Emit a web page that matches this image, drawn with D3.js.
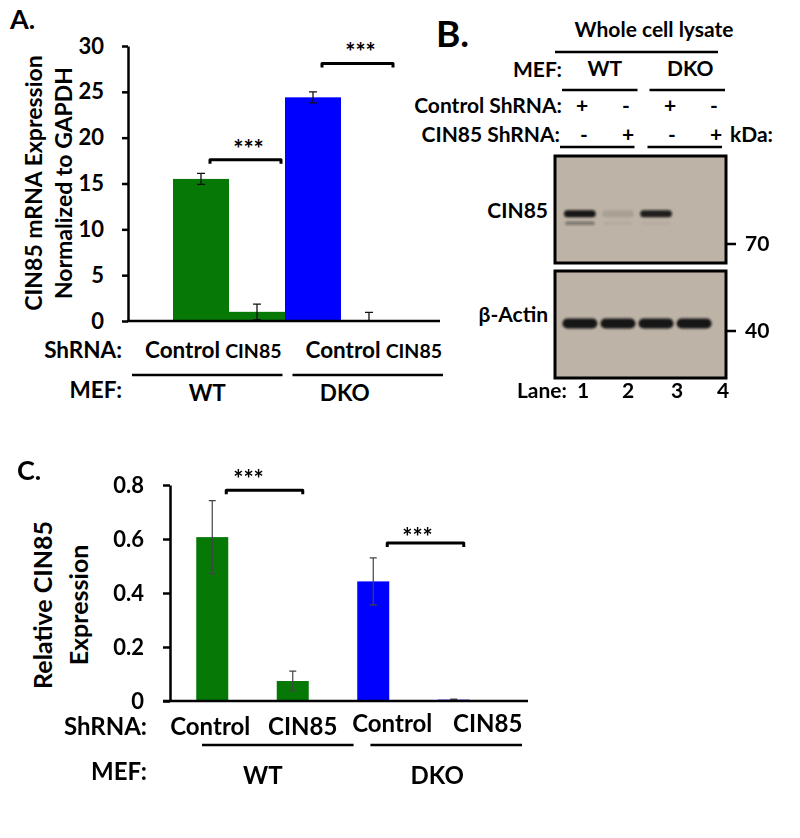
<!DOCTYPE html>
<html><head><meta charset="utf-8">
<script src="https://cdn.jsdelivr.net/npm/d3@7"></script>
<style>
body{margin:0;background:#fff}
svg{display:block}
text{font-family:Lato,"Open Sans",sans-serif;font-weight:700;fill:#000}
</style>
</head><body>
<svg id="fig" width="800" height="838"></svg>
<script>
// ---------------- DATA ----------------
const shrnaLabels = ["Control", "CIN85", "Control", "CIN85"];
const mefGroups = ["WT", "DKO"];
const barGroup = ["WT", "WT", "DKO", "DKO"];
// Panel A: CIN85 mRNA expression normalized to GAPDH
const mrnaValues = [15.5, 1.0, 24.4, 0.05];
const mrnaErrors = [0.6, 0.85, 0.6, 0.9];
const mrnaTicks = [0, 5, 10, 15, 20, 25, 30];
const mrnaSigLevels = [17.6, 28.1];
// Panel C: relative CIN85 (protein) expression
const proteinValues = [0.607, 0.074, 0.443, 0.005];
const proteinErrors = [0.135, 0.037, 0.087, 0.002];
const proteinTicks = [0, 0.2, 0.4, 0.6, 0.8];
const proteinSigLevels = [0.781, 0.585];
const sigPairs = [[0, 1], [2, 3]];
const sigLabel = "***";
// Panel B: western blot
const blotLanes = [1, 2, 3, 4];
const controlShRNA = ["+", "-", "+", "-"];
const cin85ShRNA = ["-", "+", "-", "+"];
const cin85Band = [1.0, 0.1, 0.95, 0];       // ~85 kDa
const cin85LowerBand = [0.45, 0.05, 0.04, 0]; // ~80 kDa
const actinBand = [1, 1, 1, 1];              // ~42 kDa
const markerKDa = [70, 40];

// ---------------- SETUP ----------------
const svg = d3.select("#fig");
svg.append("rect").attr("width", 800).attr("height", 838).attr("fill", "#fff");
const defs = svg.append("defs");
defs.append("filter").attr("id", "blur").attr("x", "-20%").attr("y", "-100%").attr("width", "140%").attr("height", "300%")
  .append("feGaussianBlur").attr("stdDeviation", 1.3);
const color = d3.scaleOrdinal().domain(mefGroups).range(["#067806", "#0000ff"]);

function txt(g, s, x, y, size, anchor) {
  return g.append("text").attr("x", x).attr("y", y).attr("font-size", size)
    .attr("text-anchor", anchor || "start").text(s);
}
function bracket(g, x1, x2, y) {
  g.append("path").attr("d", `M${x1},${y + 4}L${x1},${y}L${x2},${y}L${x2},${y + 4}`)
    .attr("fill", "none").attr("stroke", "#000").attr("stroke-width", 3).attr("stroke-linejoin", "round");
}
function styleAxis(ax, size) {
  ax.select(".domain").attr("stroke", "#000").attr("stroke-width", 2.5);
  ax.selectAll(".tick line").attr("stroke", "#000").attr("stroke-width", 2.5);
  ax.selectAll(".tick text").attr("font-size", size).attr("fill", "#000")
    .style("font-family", "Lato, sans-serif").style("font-weight", 700);
}

// ---------------- PANEL A ----------------
{
  const g = svg.append("g");
  const x = d3.scaleBand().domain(d3.range(4)).range([173, 397]).padding(0);
  const y = d3.scaleLinear().domain([0, 30]).range([321, 46]);
  txt(g, "A.", 10, 29, 27);
  g.append("text").attr("transform", "translate(42,183) rotate(-90)").attr("text-anchor", "middle").attr("font-size", 23).text("CIN85 mRNA Expression");
  g.append("text").attr("transform", "translate(72,183) rotate(-90)").attr("text-anchor", "middle").attr("font-size", 23).text("Normalized to GAPDH");
  // bars
  g.selectAll(".barA").data(mrnaValues).join("rect")
    .attr("x", (d, i) => x(i)).attr("width", x.bandwidth())
    .attr("y", d => y(d)).attr("height", d => y(0) - y(d))
    .attr("fill", (d, i) => color(barGroup[i]));
  // error bars
  mrnaValues.forEach((v, i) => {
    const cx = x(i) + x.bandwidth() / 2;
    const top = y(v + mrnaErrors[i]), bot = y(Math.max(0, v - mrnaErrors[i]));
    g.append("path").attr("d", `M${cx},${top}L${cx},${bot}M${cx - 4},${top}L${cx + 4},${top}M${cx - 4},${bot}L${cx + 4},${bot}`)
      .attr("stroke", "#111").attr("stroke-width", 1.3).attr("fill", "none");
  });
  // axes
  const ay = g.append("g").attr("transform", "translate(128,0)")
    .call(d3.axisLeft(y).tickValues(mrnaTicks).tickSize(6).tickSizeOuter(0).tickPadding(18).tickFormat(d3.format("d")));
  styleAxis(ay, 22);
  g.append("line").attr("x1", 127).attr("x2", 440).attr("y1", y(0)).attr("y2", y(0)).attr("stroke", "#000").attr("stroke-width", 2.5);
  // significance
  sigPairs.forEach((p, k) => {
    const x1 = x(p[0]) + x.bandwidth() / 2 + 9, x2 = x(p[1]) + x.bandwidth() / 2 + 24;
    const yy = y(mrnaSigLevels[k]);
    bracket(g, x1, x2, yy);
    txt(g, sigLabel, (x1 + x2) / 2 + 3, yy - 2, 24, "middle");
  });
  // category labels
  const gA = d3.scaleBand().domain(mefGroups).range([132, 443]).paddingInner(0.0623);
  txt(g, "ShRNA:", 122, 358, 22.5, "end");
  txt(g, "MEF:", 122, 398, 22.5, "end");
  mefGroups.forEach((m, k) => {
    const s = gA(m), e = s + gA.bandwidth();
    txt(g, shrnaLabels[k * 2], s + 13, 358, 22.5, "start");
    txt(g, shrnaLabels[k * 2 + 1], e - 1, 358, 19.5, "end");
    g.append("line").attr("x1", s).attr("x2", e).attr("y1", 375).attr("y2", 375).attr("stroke", "#000").attr("stroke-width", 2.5);
    txt(g, m, s + gA.bandwidth() / 2 + [0, -23][k], 401, 22.5, "middle");
  });
}

// ---------------- PANEL B ----------------
{
  const g = svg.append("g");
  const lane = d3.scaleBand().domain(blotLanes).range([558, 716]).padding(0.15);
  const head = d3.scaleBand().domain(blotLanes).range([562, 738]);
  const mw = d3.scaleLog().domain([40, 70]).range([331, 244]);
  txt(g, "B.", 436, 47, 37);
  txt(g, "Whole cell lysate", 654, 37, 21, "middle");
  g.append("line").attr("x1", 555).attr("x2", 718).attr("y1", 52).attr("y2", 52).attr("stroke", "#000").attr("stroke-width", 2.5);
  txt(g, "MEF:", 562, 77, 21, "end");
  const gB = d3.scaleBand().domain(mefGroups).range([562, 725]).paddingInner(0.137);
  mefGroups.forEach((m, k) => {
    txt(g, m, gB(m) + gB.bandwidth() / 2 + [5, 3][k], 76, 21, "middle");
    g.append("line").attr("x1", gB(m)).attr("x2", gB(m) + gB.bandwidth()).attr("y1", 90).attr("y2", 90).attr("stroke", "#000").attr("stroke-width", 2.5);
    g.append("line").attr("x1", gB(m) - 2).attr("x2", gB(m) + gB.bandwidth() - 3).attr("y1", 147).attr("y2", 147).attr("stroke", "#000").attr("stroke-width", 2.5);
  });
  txt(g, "Control ShRNA:", 562, 113, 21, "end");
  txt(g, "CIN85 ShRNA:", 560, 142, 21, "end");
  blotLanes.forEach((l, i) => {
    const cx = head(l) + head.bandwidth() / 2;
    txt(g, controlShRNA[i], cx - 2, 113, 21, "middle");
    txt(g, cin85ShRNA[i], cx, 142, 21, "middle");
  });
  txt(g, "kDa:", 730, 142, 21, "start");
  // blots
  const blots = [{ y0: 156, y1: 263, label: "CIN85", ly: 218 }, { y0: 271, y1: 378, label: "\u03b2-Actin", ly: 322 }];
  blots.forEach(b => {
    g.append("rect").attr("x", 555).attr("y", b.y0).attr("width", 171).attr("height", b.y1 - b.y0)
      .attr("fill", "#bdb3a6").attr("stroke", "#000").attr("stroke-width", 3);
    txt(g, b.label, 548, b.ly, 21, "end");
  });
  const bandG = g.append("g").attr("filter", "url(#blur)");
  function drawBands(vals, kda, h, wScale) {
    vals.forEach((v, i) => {
      if (v <= 0) return;
      const l = blotLanes[i];
      const w = lane.bandwidth() * wScale;
      const cx = lane(l) + lane.bandwidth() / 2;
      bandG.append("rect").attr("x", cx - w / 2).attr("y", mw(kda) - h / 2).attr("width", w).attr("height", h)
        .attr("rx", h / 2).attr("fill", "#141414").attr("opacity", v);
    });
  }
  drawBands(cin85Band, 85, 7, 0.98);
  drawBands(cin85LowerBand, 80, 3, 0.9);
  drawBands(actinBand, 42, 10, 1.08);
  markerKDa.forEach(k => {
    g.append("line").attr("x1", 726).attr("x2", 736).attr("y1", mw(k)).attr("y2", mw(k)).attr("stroke", "#000").attr("stroke-width", 2.5);
    txt(g, String(k), 745, mw(k) + 7, 21, "start");
  });
  txt(g, "Lane:", 567, 398, 21, "end");
  blotLanes.forEach((l, i) => txt(g, String(l), head(l) + head.bandwidth() / 2 + [-1, 0, 5, 7][i], 398, 21, "middle"));
}

// ---------------- PANEL C ----------------
{
  const g = svg.append("g");
  const x = d3.scaleBand().domain(d3.range(4)).range([172, 494]).paddingInner(0.6025).paddingOuter(0.30125);
  const y = d3.scaleLinear().domain([0, 0.8]).range([701, 485]);
  txt(g, "C.", 17, 480, 27);
  g.append("text").attr("transform", "translate(52,605) rotate(-90)").attr("text-anchor", "middle").attr("font-size", 25).text("Relative CIN85");
  g.append("text").attr("transform", "translate(88,605) rotate(-90)").attr("text-anchor", "middle").attr("font-size", 25).text("Expression");
  g.selectAll(".barC").data(proteinValues).join("rect")
    .attr("x", (d, i) => x(i)).attr("width", x.bandwidth())
    .attr("y", d => y(d)).attr("height", d => y(0) - y(d))
    .attr("fill", (d, i) => color(barGroup[i]));
  proteinValues.forEach((v, i) => {
    const cx = x(i) + x.bandwidth() / 2;
    const top = y(v + proteinErrors[i]), bot = y(Math.max(0, v - proteinErrors[i]));
    g.append("path").attr("d", `M${cx},${top}L${cx},${bot}M${cx - 3.5},${top}L${cx + 3.5},${top}M${cx - 3.5},${bot}L${cx + 3.5},${bot}`)
      .attr("stroke", "#444").attr("stroke-width", 1.2).attr("fill", "none");
  });
  const ay = g.append("g").attr("transform", "translate(170,0)")
    .call(d3.axisLeft(y).tickValues(proteinTicks).tickSize(7).tickSizeOuter(0).tickPadding(19).tickFormat(d => d === 0 ? "0" : d3.format(".1f")(d)));
  styleAxis(ay, 22);
  g.append("line").attr("x1", 163).attr("x2", 528).attr("y1", y(0)).attr("y2", y(0)).attr("stroke", "#000").attr("stroke-width", 2.5);
  sigPairs.forEach((p, k) => {
    const x1 = x(p[0]) + x.bandwidth() / 2 + 14, x2 = x(p[1]) + x.bandwidth() / 2 + 10;
    const yy = y(proteinSigLevels[k]);
    bracket(g, x1, x2, yy);
    txt(g, sigLabel, (x1 + x2) / 2 + [-16, -8][k], yy + [-2, 3][k], 24, "middle");
  });
  txt(g, "ShRNA:", 147, 735, 24, "end");
  txt(g, "MEF:", 147, 780, 24, "end");
  shrnaLabels.forEach((s, i) => {
    txt(g, s, x(i) + x.bandwidth() / 2 + [-2, 10, 19, 34][i], [735, 735, 732, 732][i], 24, "middle");
  });
  const gC = d3.scaleBand().domain(mefGroups).range([202, 522]).paddingInner(0.1);
  mefGroups.forEach((m, k) => {
    g.append("line").attr("x1", gC(m)).attr("x2", gC(m) + gC.bandwidth()).attr("y1", 745).attr("y2", 745).attr("stroke", "#000").attr("stroke-width", 2.5);
    txt(g, m, gC(m) + gC.bandwidth() / 2 + [-15, -9][k], 784, 24, "middle");
  });
}
</script>
</body></html>
